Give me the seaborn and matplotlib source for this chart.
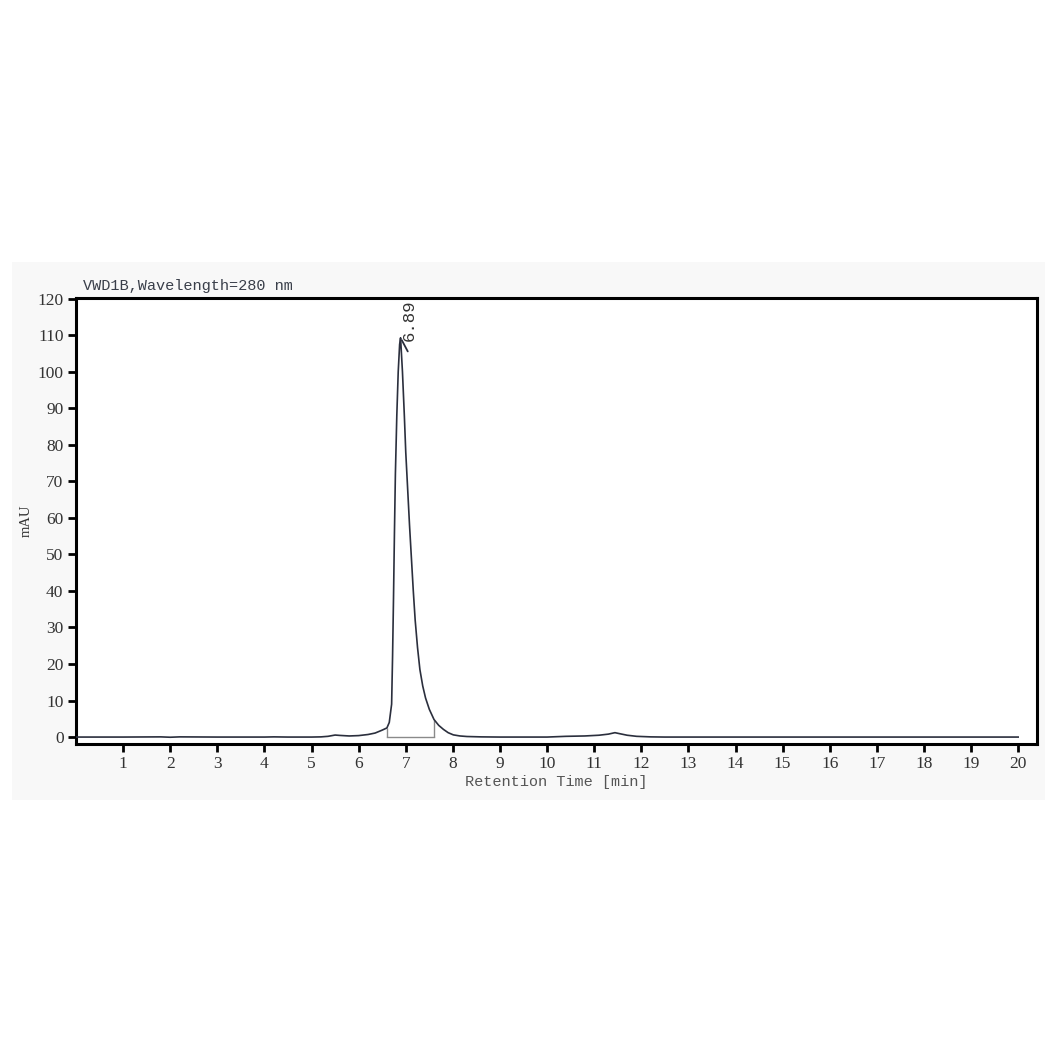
import numpy as np
import pandas as pd
import seaborn as sns
import matplotlib.pyplot as plt
from matplotlib.patches import Rectangle

# chromatogram trace (min, mAU)
times = [0.0, 1.0, 1.8, 2.0, 2.2, 3.0, 4.0, 4.2, 4.5, 5.0, 5.2, 5.35, 5.5, 5.6,
         5.8, 6.0, 6.2, 6.35, 6.5, 6.6, 6.65, 6.70, 6.72, 6.74, 6.76, 6.78,
         6.81, 6.84, 6.87, 6.89, 6.93, 6.97, 7.00, 7.04, 7.08, 7.12, 7.16,
         7.20, 7.25, 7.30, 7.36, 7.42, 7.50, 7.60, 7.70, 7.80, 7.90, 8.01,
         8.15, 8.30, 8.60, 9.0, 10.0, 10.4, 10.8, 11.1, 11.3, 11.44, 11.55,
         11.7, 11.9, 12.2, 12.5, 20.0]
signal = [0.0, 0.0, 0.05, -0.05, 0.05, 0.0, 0.0, 0.05, 0.0, 0.0, 0.05, 0.2,
          0.55, 0.45, 0.3, 0.4, 0.7, 1.1, 1.9, 2.5, 4.0, 9.0, 22.0, 38.0,
          56.0, 72.0, 88.0, 100.0, 107.5, 109.3, 100.0, 88.0, 78.0, 68.0,
          58.0, 49.0, 40.0, 32.0, 24.5, 18.5, 14.0, 10.7, 7.6, 4.8, 3.2, 2.1,
          1.2, 0.6, 0.3, 0.15, 0.05, 0.0, 0.0, 0.2, 0.3, 0.5, 0.8, 1.2, 0.9,
          0.5, 0.2, 0.05, 0.0, 0.0]

# integration marks
drop_times = [6.60, 7.60]
drop_heights = [2.5, 4.8]
peak_label = "6.89"
apex_time = 6.89
apex_value = 109.3

x_ticks = list(range(1, 21))
y_ticks = list(range(0, 121, 10))

df = pd.DataFrame({"time": times, "mAU": signal})

plt.rcParams["font.family"] = ["Liberation Serif", "DejaVu Serif"]

fig = plt.figure(figsize=(10.57, 10.57), dpi=100, facecolor="white")
fig.add_artist(Rectangle((12 / 1057, 1 - 800 / 1057), 1033 / 1057, 538 / 1057,
                         transform=fig.transFigure, facecolor="#f8f8f8",
                         edgecolor="none", zorder=-10))
ax = fig.add_axes([76 / 1057, 1 - 744 / 1057, 961 / 1057, 446 / 1057])
ax.set_facecolor("white")

sns.lineplot(data=df, x="time", y="mAU", ax=ax, color="#2b2f3d",
             linewidth=1.2, sort=False, estimator=None, zorder=3)

# integration baseline and drop lines
ax.plot(drop_times, [0, 0], color="#8a8a8a", linewidth=1.0, zorder=2)
ax.vlines(drop_times, 0, drop_heights, color="#8a8a8a", linewidth=1.0, zorder=2)

# apex tick and retention time label
ax.annotate("", xy=(apex_time, apex_value), xytext=(apex_time + 0.18, apex_value - 4.4),
            arrowprops=dict(arrowstyle="-", color="#2b2f3d", lw=1.3))
ax.text(apex_time + 0.19, apex_value - 1.0, peak_label, rotation=90,
        ha="center", va="bottom", fontsize=12.5, color="#333333",
        family=["Liberation Mono", "DejaVu Sans Mono"])

ax.set_xlim(0, 20.4)
ax.set_ylim(-1.9, 120.2)
ax.set_xticks(x_ticks)
ax.set_yticks(y_ticks)
ax.tick_params(axis="both", direction="out", length=6, width=2,
               labelsize=12.5, labelcolor="#333333", pad=3)

for s in ax.spines.values():
    s.set_linewidth(2.2)
    s.set_color("black")

ax.set_xlabel("Retention Time [min]", fontsize=11, color="#555555",
              family=["Liberation Mono", "DejaVu Sans Mono"], labelpad=2)
ax.set_ylabel("mAU", fontsize=10.5, color="#333333", labelpad=3)
ax.set_title("VWD1B,Wavelength=280 nm", loc="left", fontsize=11,
             color="#3a3f4a", family=["Liberation Mono", "DejaVu Sans Mono"],
             pad=6, x=0.007)

fig.savefig("out.png", dpi=100, facecolor="white")
